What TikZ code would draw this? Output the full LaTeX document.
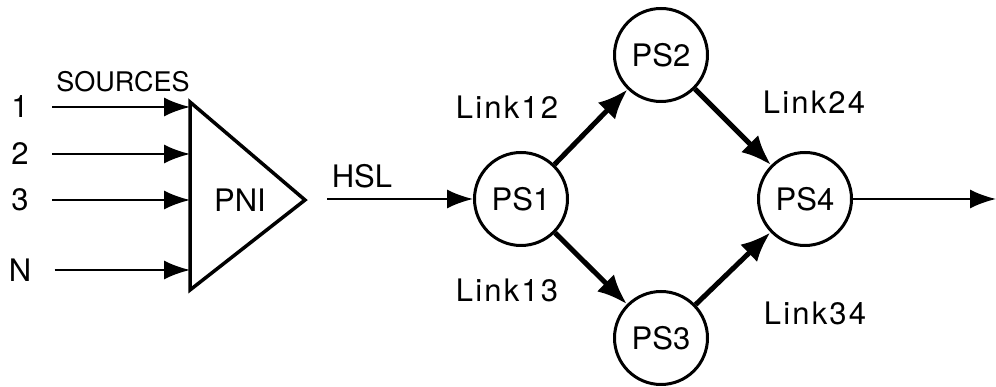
\documentclass[tikz,border=0pt]{standalone}
\usepackage{fontspec}
\setmainfont{TeX Gyre Heros}
\newfontfamily\linkfont[LetterSpace=7]{TeX Gyre Heros}
\usetikzlibrary{arrows.meta}

\begin{document}
\begin{tikzpicture}[x=1pt, y=1pt,
        >={Latex[length=26pt,width=19pt]},
        lbl/.style={font=\fontsize{31}{36}\selectfont},
        linklbl/.style={font=\linkfont\fontsize{31}{36}\selectfont},
        ps/.style={circle, draw, line width=3pt, minimum size=93pt, inner sep=0pt, font=\fontsize{31}{36}\selectfont},
        src/.style={->, line width=2.2pt},
        link/.style={-{Latex[length=30pt,width=24pt]}, line width=5pt}]
        \useasboundingbox (0,0) rectangle (996,387);
        % PNI triangle
        \draw[line width=3.5pt, line join=miter] (190,285) -- (305,187) -- (190,97) -- cycle;
        \node[lbl] (pni) at (240,187) {PNI};
        \node[font=\fontsize{27}{32}\selectfont] (sources) at (123,305) {SOURCES};
        \coordinate (in1) at (190,280);
        \coordinate (in2) at (190,233);
        \coordinate (in3) at (190,187);
        \coordinate (inN) at (190,117);
        \node[lbl] (s1) at (20,280) {1};
        \node[lbl] (s2) at (20,233) {2};
        \node[lbl] (s3) at (20,187) {3};
        \node[lbl] (sN) at (20,117) {N};
        \draw[src] (s1.east) ++(20,0) coordinate (a1) (a1) -- (in1);
        \draw[src] (s2.east) ++(20,0) coordinate (a2) (a2) -- (in2);
        \draw[src] (s3.east) ++(20,0) coordinate (a3) (a3) -- (in3);
        \draw[src] (sN.east) ++(20,0) coordinate (aN) (aN) -- (inN);
        % processing stations
        \node[ps] (ps1) at (521,188) {PS1};
        \node[ps] (ps2) at (661,332) {PS2};
        \node[ps] (ps3) at (661,49) {PS3};
        \node[ps] (ps4) at (805,188) {PS4};
        \coordinate (hsl) at (327,188);
        \coordinate (out) at (996,188);
        \draw[src] (hsl) -- (ps1);
        \node[lbl] (hsllbl) at (362,211) {HSL};
        \draw[link] (ps1) -- (ps2);
        \draw[link] (ps1) -- (ps3);
        \draw[link] (ps2) -- (ps4);
        \draw[link] (ps3) -- (ps4);
        \draw[src] (ps4) -- (out);
        \node[linklbl] (l12) at (507,280) {Link12};
        \node[linklbl] (l13) at (507,97) {Link13};
        \node[linklbl] (l24) at (814,285) {Link24};
        \node[linklbl] (l34) at (815,74) {Link34};
\end{tikzpicture}
\end{document}
